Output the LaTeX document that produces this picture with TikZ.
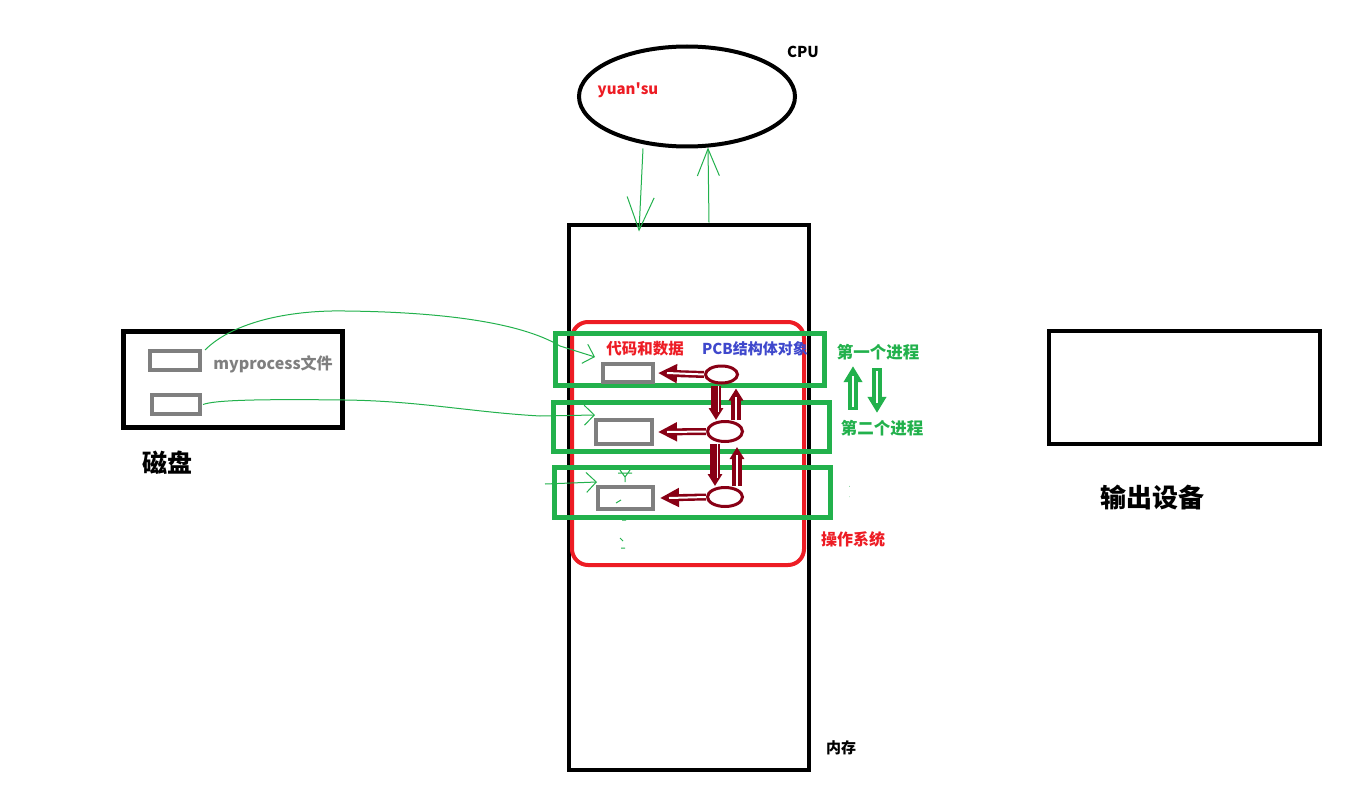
\documentclass[tikz,border=0pt]{standalone}
\usepackage{fontspec}
\setmainfont{Noto Sans CJK SC}
\usetikzlibrary{arrows.meta,shapes.geometric}
\definecolor{pgreen}{HTML}{22B14C}
\definecolor{pred}{HTML}{ED1C24}
\definecolor{pblue}{HTML}{3F48CC}
\definecolor{dred}{HTML}{880015}
\definecolor{pgray}{HTML}{7F7F7F}
\tikzset{
  blk/.style={draw=black, line width=4pt, inner sep=0pt},
  gbox/.style={draw=pgreen, line width=5pt, inner sep=0pt},
  grect/.style={draw=pgray, line width=4pt, inner sep=0pt},
  dell/.style={draw=dred, line width=3pt, ellipse, inner sep=0pt},
  lbl/.style={font=\bfseries, inner sep=0pt},
  thin/.style={draw=pgreen, line width=1pt},
  darrow/.style={dred, line width=7pt, -{Triangle[length=19pt,width=18pt]}},
  dinner/.style={white, line width=2pt},
  varrow/.style={dred, line width=10pt, -{Triangle[length=12pt,width=14pt]}},
  garrow/.style={pgreen, line width=10pt, -{Triangle[length=16pt,width=18pt]}},
}
\begin{document}
\begin{tikzpicture}[x=1pt,y=-1pt]
\useasboundingbox (0,0) rectangle (1360,797);
% CPU
\node[draw=black, line width=4pt, ellipse, minimum width=216pt, minimum height=100pt, inner sep=0pt] (cpu) at (687,96.5) {};
\node[lbl, font=\bfseries\fontsize{15}{18}\selectfont] (cpul) at (803,52) {CPU};
\node[lbl, text=pred, font=\bfseries\fontsize{15}{18}\selectfont] (ys) at (628,90) {yuan\textquotesingle su};
% memory
\node[blk, minimum width=240pt, minimum height=545pt] (mem) at (688.5,497) {};
\node[lbl, font=\bfseries\fontsize{15}{18}\selectfont] (meml) at (841,748) {内存};
% OS
\node[draw=pred, line width=4pt, rounded corners=16pt, minimum width=232pt, minimum height=243pt, inner sep=0pt] (os) at (688,443.5) {};
\node[lbl, text=pred, font=\bfseries\fontsize{16}{19}\selectfont] (osl) at (853,539) {操作系统};
% process boxes
\node[gbox, minimum width=269pt, minimum height=52pt] (p1) at (690,359.5) {};
\node[gbox, minimum width=276pt, minimum height=49pt] (p2) at (691.5,427) {};
\node[gbox, minimum width=276pt, minimum height=50pt] (p3) at (692.5,492.5) {};
\node[lbl, text=pred, font=\bfseries\fontsize{15.5}{18}\selectfont] (cd) at (645,349) {代码和数据};
\node[lbl, text=pblue, font=\bfseries\fontsize{15}{18}\selectfont] (pcb) at (755,349) {PCB结构体对象};
% code rects
\node[grect, minimum width=50pt, minimum height=18pt] (c1) at (628,373) {};
\node[grect, minimum width=56pt, minimum height=24pt] (c2) at (624,432) {};
\node[grect, minimum width=55pt, minimum height=22pt] (c3) at (625.5,498) {};
% PCB ellipses
\node[dell, minimum width=32pt, minimum height=17pt] (e1) at (721.5,374.5) {};
\node[dell, minimum width=35pt, minimum height=20pt] (e2) at (725,431.5) {};
\node[dell, minimum width=35pt, minimum height=19pt] (e3) at (725,497) {};
% pcb -> code arrows
\draw[darrow] (e1.west) -- ([xshift=3pt]c1.east);
\draw[dinner] (e1.west) -- ([xshift=12pt]c1.east);
\draw[darrow] (e2.west) -- ([xshift=4pt]c2.east);
\draw[dinner] (e2.west) -- ([xshift=13pt]c2.east);
\draw[darrow] (e3.west) -- ([xshift=5pt]c3.east);
\draw[dinner] (e3.west) -- ([xshift=14pt]c3.east);
% vertical pcb arrows
\draw[varrow] ([xshift=-5.5pt,yshift=-1pt]e1.south) -- ([xshift=-9pt]e2.north);
\draw[dinner, line width=1.5pt] ([xshift=-3pt,yshift=-1pt]e1.south) -- ([xshift=-6.5pt,yshift=8pt]e2.north);
\draw[varrow] ([xshift=11pt]e2.north) -- ([xshift=14.5pt,yshift=-4pt]e1.south);
\draw[dinner, line width=1.5pt] ([xshift=11pt]e2.north) -- ([xshift=14.5pt,yshift=-12pt]e1.south);
\draw[varrow] ([xshift=-10pt,yshift=-1pt]e2.south) -- ([xshift=-10pt]e3.north);
\draw[dinner, line width=1.5pt] ([xshift=-7.5pt,yshift=-1pt]e2.south) -- ([xshift=-7.5pt,yshift=8pt]e3.north);
\draw[varrow] ([xshift=12pt]e3.north) -- ([xshift=12pt,yshift=-4pt]e2.south);
\draw[dinner, line width=1.5pt] ([xshift=12pt]e3.north) -- ([xshift=12pt,yshift=-12pt]e2.south);
% process labels
\node[lbl, text=pgreen, font=\bfseries\fontsize{16.5}{19}\selectfont] (t1) at (878,352) {第一个进程};
\node[lbl, text=pgreen, font=\bfseries\fontsize{16.5}{19}\selectfont] (t2) at (882,428) {第二个进程};
\draw[garrow] ([xshift=-29pt,yshift=10pt]t2.north) -- ([xshift=-25pt,yshift=-6pt]t1.south);
\draw[white, line width=2pt] ([xshift=-29pt,yshift=13pt]t2.north) -- ([xshift=-25pt,yshift=-16pt]t1.south);
\draw[garrow] ([xshift=-1pt,yshift=-8pt]t1.south) -- ([xshift=-5pt,yshift=7pt]t2.north);
\draw[white, line width=2pt] ([xshift=-1pt,yshift=-11pt]t1.south) -- ([xshift=-5pt,yshift=17pt]t2.north);
\begin{scope}
\clip (840,478) rectangle (849,503);
\node[lbl, text=pgreen, font=\bfseries\fontsize{16.5}{19}\selectfont] (t3) at (857,491) {第};
\end{scope}
% disk
\node[blk, line width=5pt, minimum width=219pt, minimum height=96pt] (disk) at (233,379.5) {};
\node[grect, minimum width=50pt, minimum height=19pt] (d1) at (175,360.5) {};
\node[grect, minimum width=48pt, minimum height=19pt] (d2) at (176,404.5) {};
\node[lbl, text=pgray, font=\bfseries\fontsize{16}{19}\selectfont] (mpl) at (273,364) {myprocess文件};
\node[lbl, font=\bfseries\fontsize{25}{29}\selectfont] (diskl) at (167,463) {磁盘};
% output device
\node[blk, minimum width=271pt, minimum height=113pt] (outdev) at (1184.5,387.5) {};
\node[lbl, font=\bfseries\fontsize{26}{30}\selectfont] (outl) at (1152,497) {输出设备};
% CPU <-> memory
\draw[thin, -{Straight Barb[length=33pt,width=27pt]}] ([xshift=-44pt]cpu.south) -- ([xshift=-49.5pt,yshift=-9pt]mem.north);
\draw[thin, -{Straight Barb[length=27pt,width=22pt]}] ([xshift=20.5pt]mem.north) -- ([xshift=21pt,yshift=1pt]cpu.south);
% disk -> memory curves
\coordinate (f3) at (545,484);
\draw[thin, -{Straight Barb[length=10pt,width=20pt]}] ([xshift=3pt,yshift=-1pt]d1.north east) .. controls (235,320) and (295,310) .. (345,311) .. controls (440,312) and (520,322) .. (560,346) -- ([xshift=-6pt,yshift=16pt]c1.west);
\draw[thin, -{Straight Barb[length=10pt,width=20pt]}] ([xshift=1pt]d2.east) .. controls (215,400) and (260,399) .. (345,400) .. controls (420,401) and (470,412) .. (540,416) -- ([xshift=1pt,yshift=17pt]c2.west);
\draw[thin, -{Straight Barb[length=10pt,width=20pt]}] (f3) -- ([xshift=1pt,yshift=16pt]c3.west);
% stray marks
\draw[thin] (620,470) -- (625,477) -- (630,470) (618,473) -- (632,473) (625,477) -- (625,482);
\draw[thin] (616,503) -- (621,500) (622,520) -- (626,520) (620,538) -- (623,541) (621,548) -- (625,548);
\end{tikzpicture}
\end{document}
